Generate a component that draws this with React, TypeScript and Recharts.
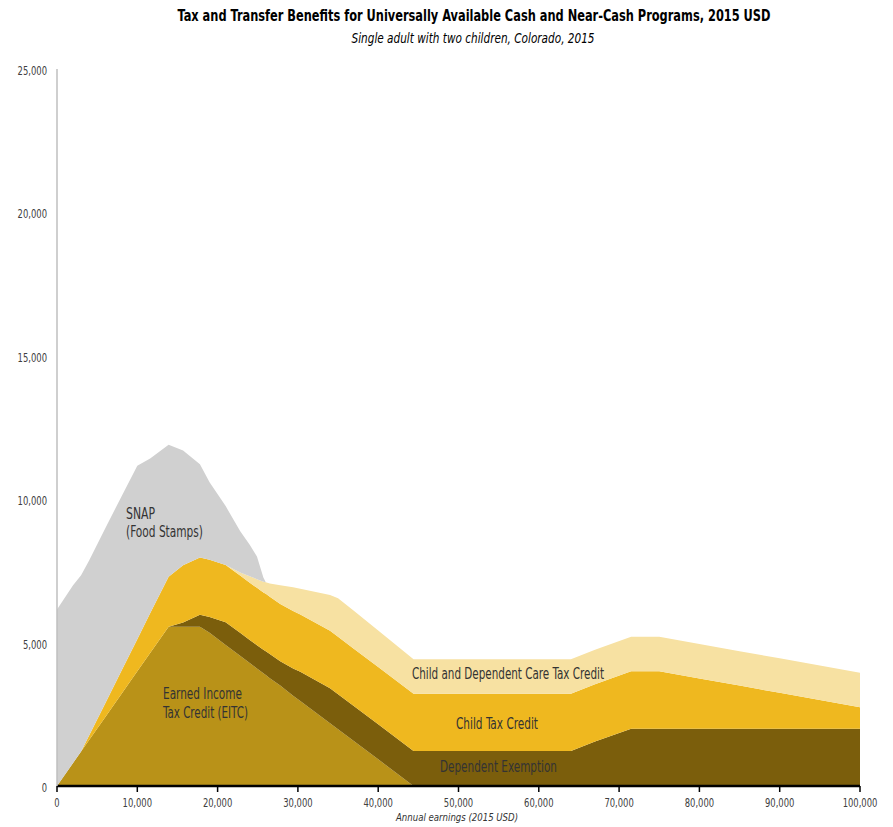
import React from "react";
import { AreaChart, Area, XAxis, YAxis } from "recharts";

// annual earnings (USD) at the chart's break points
const earnings = [
  0, 2000, 3000, 4000, 6000, 8000, 10000, 11600, 13900, 15700, 17800, 19000, 21000, 22800,
  24000, 24900, 25700, 26000, 26500, 27800, 29400, 30300, 34000, 35000, 37000, 40000, 44400,
  50000, 55000, 60000, 64000, 67000, 71500, 75000, 80000, 85000, 90000, 95000, 100000,
];

const eitc = [
  0, 800, 1200, 1600, 2400, 3200, 4000, 4640, 5550, 5550, 5550, 5340, 4920, 4540,
  4290, 4100, 3930, 3870, 3760, 3500, 3150, 2960, 2190, 1980, 1560, 930, 0,
  0, 0, 0, 0, 0, 0, 0, 0, 0, 0, 0, 0,
];

const dependentExemption = [
  0, 0, 0, 0, 0, 0, 0, 0, 0, 150, 420, 550, 790, 800,
  800, 810, 820, 830, 840, 850, 950, 1020, 1220, 1220, 1220, 1220, 1220,
  1220, 1220, 1220, 1220, 1550, 2000, 2000, 2000, 2000, 2000, 2000, 2000,
];

const childTaxCredit = [
  0, 0, 0, 160, 480, 800, 1120, 1380, 1750, 2000, 2000, 2000, 2000, 2000,
  2000, 2000, 2000, 2000, 2000, 2000, 2000, 2000, 2000, 2000, 2000, 2000, 2000,
  2000, 2000, 2000, 2000, 2000, 2000, 2000, 1750, 1500, 1250, 1000, 750,
];

const careCredit = [
  0, 0, 0, 0, 0, 0, 0, 0, 0, 0, 0, 0, 0, 100,
  220, 300, 370, 400, 460, 650, 830, 900, 1250, 1350, 1320, 1270, 1200,
  1200, 1200, 1200, 1200, 1200, 1200, 1200, 1200, 1200, 1200, 1200, 1200,
];

const snap = [
  6150, 6200, 6150, 6100, 6100, 6080, 6050, 5400, 4600, 4000, 3250, 2700, 2050, 1450,
  1100, 790, 150, 0, 0, 0, 0, 0, 0, 0, 0, 0, 0,
  0, 0, 0, 0, 0, 0, 0, 0, 0, 0, 0, 0,
];

const xTicks = [0, 10000, 20000, 30000, 40000, 50000, 60000, 70000, 80000, 90000, 100000];
const yTicks = [0, 5000, 10000, 15000, 20000, 25000];

const data = earnings.map((x, i) => ({
  x,
  eitc: eitc[i],
  dep: dependentExemption[i],
  ctc: childTaxCredit[i],
  cdctc: careCredit[i],
  snap: snap[i],
}));

const fmt = (v: number) => v.toLocaleString("en-US");
const numWidth = (s: string) => s.replace(/,/g, "").length * 5.3 + (s.includes(",") ? 2.9 : 0);

const FONT = "'Liberation Sans Narrow', 'DejaVu Sans Condensed', 'Liberation Sans', sans-serif";

const XTick = (props: any) => {
  const { x, payload } = props;
  const s = fmt(payload.value);
  return (
    <text x={x} y={807} textAnchor="middle" fontSize={12} fill="#404040" fontFamily={FONT}
      textLength={numWidth(s)} lengthAdjust="spacingAndGlyphs">
      {s}
    </text>
  );
};

const YTick = (props: any) => {
  const { y, payload } = props;
  const s = fmt(payload.value);
  return (
    <text x={47} y={y + 6} textAnchor="end" fontSize={13} fill="#404040" fontFamily={FONT}
      textLength={numWidth(s)} lengthAdjust="spacingAndGlyphs">
      {s}
    </text>
  );
};

type LabelProps = { x: number; y: number; w: number; children: string; size?: number };
const Lbl = ({ x, y, w, children, size = 16 }: LabelProps) => (
  <text x={x} y={y} fontSize={size} fill="#333" fontFamily={FONT} textLength={w} lengthAdjust="spacingAndGlyphs">
    {children}
  </text>
);

export default function App() {
  return (
    <div style={{ position: "relative", width: 893, height: 827, background: "#fff" }}>
      <style>{`body{margin:0}`}</style>
      <AreaChart width={893} height={827} data={data} margin={{ top: 69, right: 33, bottom: 11, left: 0 }}>
        <XAxis
          dataKey="x"
          type="number"
          domain={[0, 100000]}
          ticks={xTicks}
          height={30}
          axisLine={{ stroke: "#000", strokeWidth: 2.5 }}
          tickLine={{ stroke: "#000", strokeWidth: 1.5 }}
          tickSize={6}
          tick={<XTick />}
          interval={0}
        />
        <YAxis
          type="number"
          domain={[0, 25000]}
          ticks={yTicks}
          width={57}
          axisLine={{ stroke: "#bfbfbf", strokeWidth: 1.5 }}
          tickLine={false}
          tick={<YTick />}
          interval={0}
        />
        <Area type="linear" dataKey="eitc" stackId="1" stroke="none" fill="#b99218" fillOpacity={1} isAnimationActive={false} />
        <Area type="linear" dataKey="dep" stackId="1" stroke="none" fill="#7b5e0c" fillOpacity={1} isAnimationActive={false} />
        <Area type="linear" dataKey="ctc" stackId="1" stroke="none" fill="#efb81f" fillOpacity={1} isAnimationActive={false} />
        <Area type="linear" dataKey="cdctc" stackId="1" stroke="none" fill="#f7e1a2" fillOpacity={1} isAnimationActive={false} />
        <Area type="linear" dataKey="snap" stackId="1" stroke="none" fill="#d0d0d0" fillOpacity={1} isAnimationActive={false} />
      </AreaChart>
      <svg width={893} height={827} style={{ position: "absolute", left: 0, top: 0, pointerEvents: "none" }}>
        <text x={474} y={21} textAnchor="middle" fontSize={15} fontWeight="bold" fill="#000" fontFamily={FONT}
          textLength={593} lengthAdjust="spacingAndGlyphs">
          Tax and Transfer Benefits for Universally Available Cash and Near-Cash Programs, 2015 USD
        </text>
        <text x={473} y={43} textAnchor="middle" fontSize={14} fontStyle="italic" fill="#000" fontFamily={FONT}
          textLength={243} lengthAdjust="spacingAndGlyphs">
          Single adult with two children, Colorado, 2015
        </text>
        <text x={457} y={821} textAnchor="middle" fontSize={11} fontStyle="italic" fill="#333" fontFamily={FONT}
          textLength={122} lengthAdjust="spacingAndGlyphs">
          Annual earnings (2015 USD)
        </text>
        <Lbl x={126} y={519} w={29}>SNAP</Lbl>
        <Lbl x={126} y={537} w={77}>(Food Stamps)</Lbl>
        <Lbl x={163} y={699} w={79}>Earned Income</Lbl>
        <Lbl x={163} y={718} w={85}>Tax Credit (EITC)</Lbl>
        <Lbl x={412} y={679} w={192}>Child and Dependent Care Tax Credit</Lbl>
        <Lbl x={456} y={729} w={82}>Child Tax Credit</Lbl>
        <Lbl x={440} y={772} w={117}>Dependent Exemption</Lbl>
      </svg>
    </div>
  );
}
